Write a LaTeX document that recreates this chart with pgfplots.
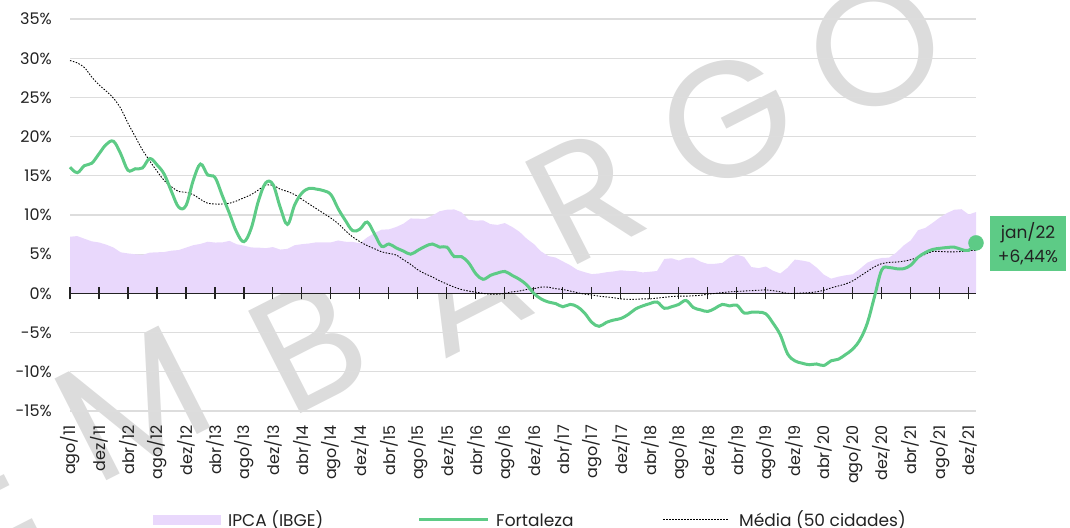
\documentclass[border=0pt]{standalone}
\usepackage{fontspec}
\setmainfont{Poppins}
\usepackage{pgfplots}
\usepackage{pgfplotstable}
\pgfplotsset{compat=1.18}
\definecolor{ipca}{HTML}{E9D8FC}
\definecolor{fort}{HTML}{5DCB86}
\definecolor{wm}{HTML}{DCDCDC}
\definecolor{gridc}{HTML}{DDDDDD}
\definecolor{txt}{HTML}{222222}
\newcommand{\tickfont}{\fontsize{16bp}{19bp}\selectfont}
\newcommand{\legfont}{\fontsize{17bp}{20bp}\selectfont}
\newcommand{\wmfont}{\fontsize{165bp}{165bp}\selectfont}

\pgfplotstableread{
i ipca fort media
0 7.23 16.1 29.7
1 7.31 15.4 29.4
2 6.97 16.3 28.8
3 6.64 16.6 27.6
4 6.50 17.8 26.6
5 6.22 19.0 25.8
6 5.85 19.4 24.9
7 5.24 17.8 23.6
8 5.10 15.7 21.7
9 4.99 15.9 20.0
10 4.92 16.0 18.3
11 5.20 17.2 16.9
12 5.24 16.4 15.6
13 5.28 15.2 14.4
14 5.45 13.0 13.6
15 5.53 11.0 13.0
16 5.84 11.2 12.9
17 6.15 14.4 12.6
18 6.31 16.5 12.0
19 6.59 15.1 11.5
20 6.49 14.8 11.4
21 6.50 12.5 11.4
22 6.70 10.2 11.5
23 6.27 7.8 11.8
24 6.09 6.6 12.2
25 5.86 8.3 12.6
26 5.84 11.8 13.2
27 5.77 14.1 13.8
28 5.91 13.9 13.8
29 5.59 11.0 13.3
30 5.68 8.8 13.0
31 6.15 11.3 12.6
32 6.28 12.8 12.0
33 6.37 13.4 11.4
34 6.52 13.3 10.8
35 6.50 13.1 10.2
36 6.51 12.6 9.6
37 6.75 10.8 8.9
38 6.59 9.3 8.0
39 6.56 8.0 7.2
40 6.41 8.2 6.6
41 7.14 9.1 6.1
42 7.70 7.6 5.7
43 8.13 6.0 5.3
44 8.17 6.3 5.1
45 8.47 5.8 4.9
46 8.89 5.4 4.3
47 9.56 5.0 3.7
48 9.53 5.5 3.0
49 9.49 6.0 2.5
50 9.93 6.3 2.1
51 10.48 5.9 1.6
52 10.67 5.9 1.2
53 10.71 4.7 0.8
54 10.36 4.7 0.5
55 9.39 3.9 0.3
56 9.28 2.5 0.15
57 9.32 1.8 0.0
58 8.84 2.3 -0.1
59 8.74 2.6 -0.1
60 8.97 2.8 0.0
61 8.48 2.3 0.2
62 7.87 1.8 0.3
63 6.99 1.1 0.5
64 6.29 0.0 0.6
65 5.35 -0.7 0.8
66 4.76 -1.1 0.8
67 4.57 -1.3 0.6
68 4.08 -1.7 0.5
69 3.60 -1.4 0.3
70 3.00 -1.7 0.1
71 2.71 -2.5 -0.1
72 2.46 -3.7 -0.2
73 2.54 -4.2 -0.35
74 2.70 -3.7 -0.45
75 2.80 -3.4 -0.55
76 2.95 -3.2 -0.7
77 2.86 -2.7 -0.75
78 2.84 -2.0 -0.75
79 2.68 -1.6 -0.7
80 2.76 -1.3 -0.7
81 2.86 -1.1 -0.6
82 4.39 -1.9 -0.5
83 4.48 -1.7 -0.4
84 4.19 -1.4 -0.35
85 4.53 -0.9 -0.35
86 4.56 -1.8 -0.3
87 4.05 -2.1 -0.25
88 3.75 -2.3 -0.1
89 3.78 -1.9 0.0
90 3.89 -1.4 0.1
91 4.58 -1.6 0.2
92 4.94 -1.5 0.25
93 4.66 -2.5 0.3
94 3.37 -2.4 0.35
95 3.22 -2.4 0.4
96 3.43 -2.6 0.45
97 2.89 -3.8 0.35
98 2.54 -5.3 0.2
99 3.27 -7.7 0.0
100 4.31 -8.6 0.0
101 4.19 -8.9 0.05
102 4.01 -9.1 0.1
103 3.30 -9.0 0.2
104 2.40 -9.2 0.4
105 1.88 -8.6 0.7
106 2.13 -8.4 0.95
107 2.31 -7.8 1.2
108 2.44 -7.1 1.6
109 3.14 -5.9 2.2
110 3.92 -3.8 2.8
111 4.31 -0.4 3.4
112 4.52 3.0 3.8
113 4.56 3.3 3.95
114 5.20 3.15 4.0
115 6.10 3.15 4.1
116 6.76 3.6 4.3
117 8.06 4.6 4.6
118 8.35 5.2 5.0
119 8.99 5.6 5.35
120 9.68 5.75 5.35
121 10.25 5.85 5.3
122 10.67 5.9 5.3
123 10.74 5.6 5.35
124 10.06 5.5 5.45
125 10.38 6.44 5.5
}\data

\begin{document}
\begin{tikzpicture}
\useasboundingbox (0,0) rectangle (1070bp,528bp);
% watermark (behind everything)
\begin{scope}[every node/.style={wm, rotate=27, inner sep=0pt, font=\wmfont}]
\node at (-17bp,35bp) {E};
\node at (133bp,125bp) {M};
\node at (308bp,183bp) {B};
\node at (465bp,243bp) {A};
\node at (585bp,332bp) {R};
\node at (728bp,408bp) {G};
\node at (875bp,480bp) {O};
\end{scope}
\begin{axis}[
  at={(70bp,117bp)}, anchor=south west,
  scale only axis, width=906bp, height=392bp,
  xmin=0, xmax=125, ymin=-15, ymax=35,
  axis line style={draw=none},
  major tick length=0pt,
  xtick={0,4,...,124},
  xticklabels={ago/11,dez/11,abr/12,ago/12,dez/12,abr/13,ago/13,dez/13,abr/14,ago/14,dez/14,abr/15,ago/15,dez/15,abr/16,ago/16,dez/16,abr/17,ago/17,dez/17,abr/18,ago/18,dez/18,abr/19,ago/19,dez/19,abr/20,ago/20,dez/20,abr/21,ago/21,dez/21},
  xticklabel style={rotate=90, anchor=east, inner sep=0pt, font=\tickfont, text=txt},
  xticklabel shift=14bp,
  ytick={-15,-10,...,35},
  yticklabels={-15\%,-10\%,-5\%,0\%,5\%,10\%,15\%,20\%,25\%,30\%,35\%},
  yticklabel style={anchor=east, inner sep=0pt, font=\tickfont, text=txt},
  yticklabel shift=18bp,
  ymajorgrids, grid style={gridc, line width=1.3bp},
  clip=false,
]
\addplot[fill=ipca, draw=none] table[x=i,y=ipca]{\data} \closedcycle;
\draw[txt, line width=1.3bp] (axis cs:0,0) -- (axis cs:125,0);
\pgfplotsinvokeforeach{0,4,...,124}{\draw[txt, line width=1.1bp] (axis cs:#1,-0.77) -- (axis cs:#1,0.77);}
\addplot[black, line width=0.9bp, dash pattern=on 1.5bp off 1.5bp, smooth] table[x=i,y=media]{\data};
\addplot[fort, line width=3bp, smooth, tension=0.6] table[x=i,y=fort]{\data};
\addplot[only marks, mark=*, mark size=7.5bp, fort] coordinates {(125,6.44)};
\end{axis}
% annotation
\fill[fort] (990bp,257bp) rectangle (1066bp,312bp);
\node[txt, font=\legfont, inner sep=0pt] at (1028bp,295bp) {jan/22};
\node[txt, font=\legfont, inner sep=0pt] at (1028bp,271bp) {+6,44\%};
% legend
\fill[ipca] (153bp,3bp) rectangle (221bp,13bp);
\node[txt, font=\legfont, anchor=base west, inner sep=0pt] at (228bp,1.5bp) {IPCA (IBGE)};
\draw[fort, line width=3bp] (419bp,8bp) -- (488bp,8bp);
\node[txt, font=\legfont, anchor=base west, inner sep=0pt] at (496bp,1.5bp) {Fortaleza};
\draw[black, line width=0.9bp, dash pattern=on 1.5bp off 1.5bp] (663bp,9bp) -- (728bp,9bp);
\node[txt, font=\legfont, anchor=base west, inner sep=0pt] at (739bp,1.5bp) {Média (50 cidades)};
\end{tikzpicture}
\end{document}
